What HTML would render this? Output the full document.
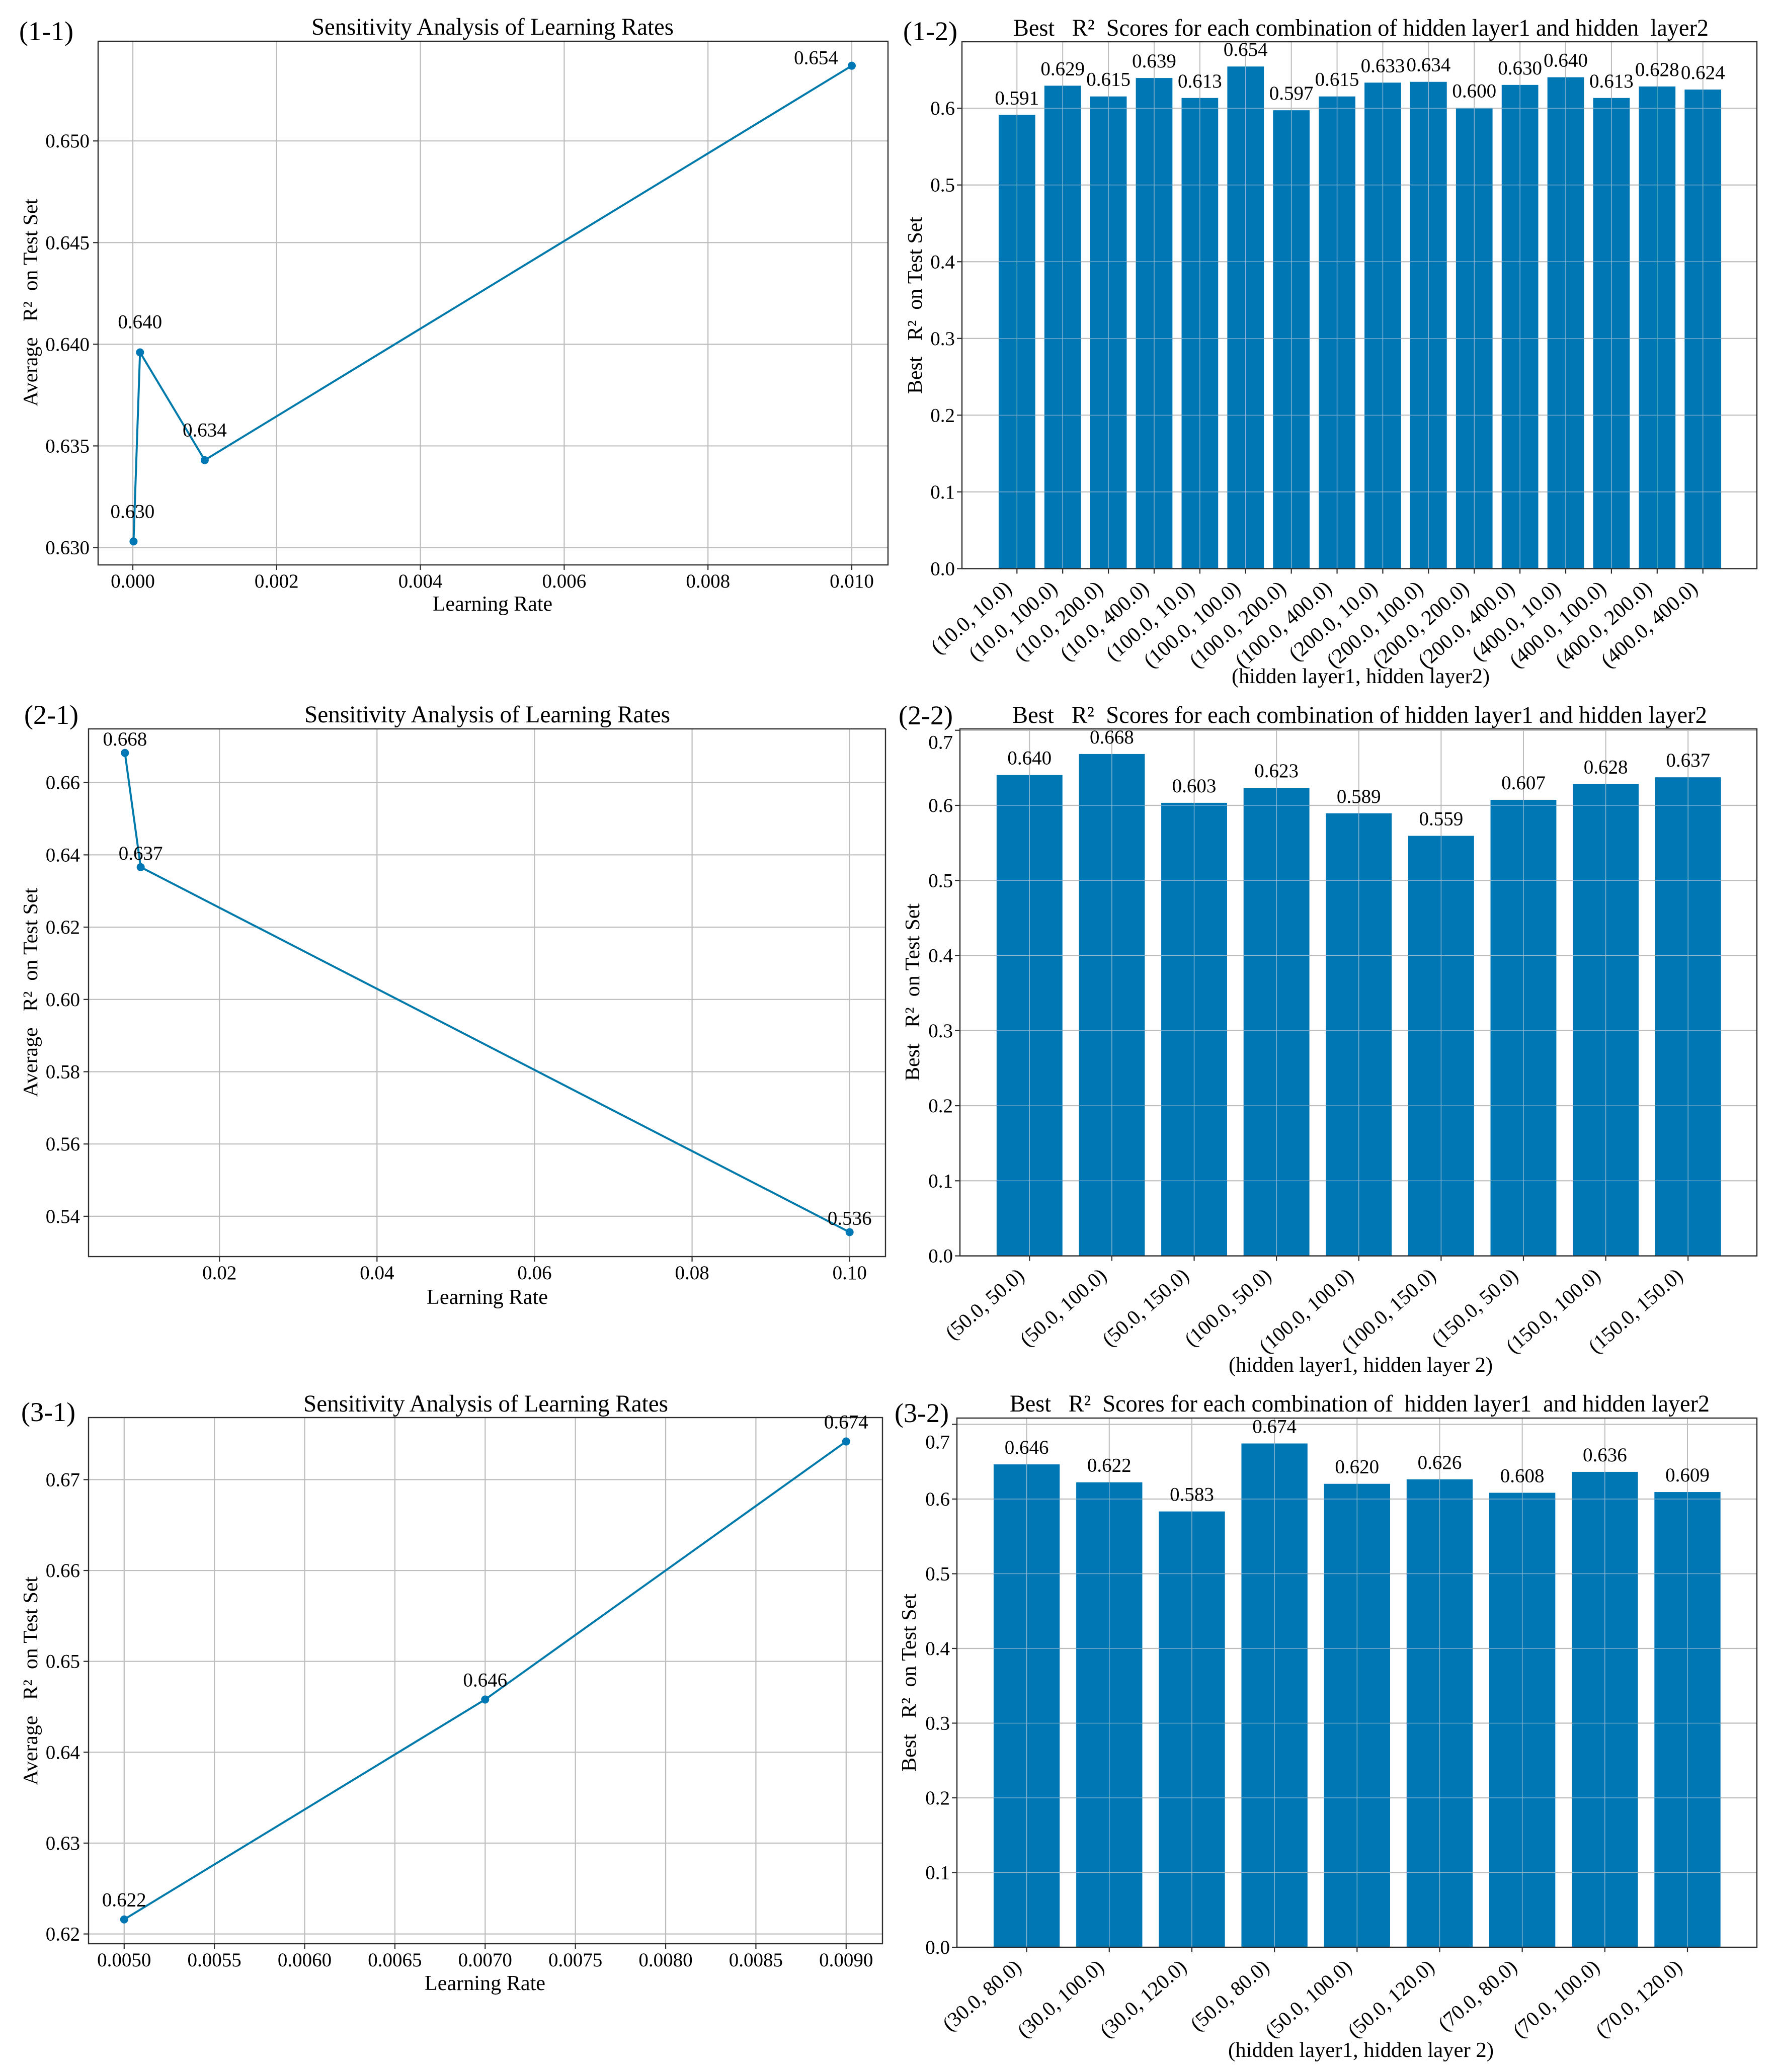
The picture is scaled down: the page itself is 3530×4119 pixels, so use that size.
<!DOCTYPE html>
<html lang="en">
<head>
<meta charset="utf-8">
<title>Learning rate sensitivity and hidden layer scores</title>
<style>
html,body{margin:0;padding:0;background:#fff;width:3530px;height:4119px;overflow:hidden}
svg{display:block}
text{font-family:"Liberation Serif","DejaVu Serif",serif;fill:#000;white-space:pre}
</style>
</head>
<body>
<svg id="fig" xmlns="http://www.w3.org/2000/svg" width="3530" height="4119" viewBox="0 0 3530 4119">
  <g id="p11">
    <text x="38" y="80" font-size="54">(1-1)</text>
    <text x="619" y="69" font-size="48" textLength="720" lengthAdjust="spacingAndGlyphs">Sensitivity Analysis of Learning Rates</text>
    <text x="860" y="1214" font-size="42" textLength="238" lengthAdjust="spacingAndGlyphs">Learning Rate</text>
    <text transform="translate(74,808) rotate(-90)" font-size="41" textLength="413" lengthAdjust="spacingAndGlyphs">Average   R²  on Test Set</text>
  </g>
  <g id="p12">
    <text x="1795" y="80" font-size="54">(1-2)</text>
    <text x="2014" y="71" font-size="48" textLength="1382" lengthAdjust="spacingAndGlyphs">Best   R²  Scores for each combination of hidden layer1 and hidden  layer2</text>
    <text x="2448" y="1358" font-size="42" textLength="513" lengthAdjust="spacingAndGlyphs">(hidden layer1, hidden layer2)</text>
    <text transform="translate(1832,783) rotate(-90)" font-size="41" textLength="352" lengthAdjust="spacingAndGlyphs">Best   R²  on Test Set</text>
  </g>
  <g id="p21">
    <text x="48" y="1439" font-size="54">(2-1)</text>
    <text x="605" y="1436" font-size="48" textLength="727" lengthAdjust="spacingAndGlyphs">Sensitivity Analysis of Learning Rates</text>
    <text x="848" y="2592" font-size="42" textLength="241" lengthAdjust="spacingAndGlyphs">Learning Rate</text>
    <text transform="translate(74,2181) rotate(-90)" font-size="41" textLength="416" lengthAdjust="spacingAndGlyphs">Average   R²  on Test Set</text>
  </g>
  <g id="p22">
    <text x="1786" y="1440" font-size="54">(2-2)</text>
    <text x="2012" y="1437" font-size="48" textLength="1381" lengthAdjust="spacingAndGlyphs">Best   R²  Scores for each combination of hidden layer1 and hidden layer2</text>
    <text x="2442" y="2727" font-size="42" textLength="525" lengthAdjust="spacingAndGlyphs">(hidden layer1, hidden layer 2)</text>
    <text transform="translate(1827,2149) rotate(-90)" font-size="41" textLength="353" lengthAdjust="spacingAndGlyphs">Best   R²  on Test Set</text>
  </g>
  <g id="p31">
    <text x="42" y="2825" font-size="54">(3-1)</text>
    <text x="603" y="2806" font-size="48" textLength="725" lengthAdjust="spacingAndGlyphs">Sensitivity Analysis of Learning Rates</text>
    <text x="844" y="3956" font-size="42" textLength="240" lengthAdjust="spacingAndGlyphs">Learning Rate</text>
    <text transform="translate(74,3549) rotate(-90)" font-size="41" textLength="415" lengthAdjust="spacingAndGlyphs">Average   R²  on Test Set</text>
  </g>
  <g id="p32">
    <text x="1778" y="2827" font-size="54">(3-2)</text>
    <text x="2007" y="2806" font-size="48" textLength="1391" lengthAdjust="spacingAndGlyphs">Best   R²  Scores for each combination of  hidden layer1  and hidden layer2</text>
    <text x="2441" y="4089" font-size="42" textLength="528" lengthAdjust="spacingAndGlyphs">(hidden layer1, hidden layer 2)</text>
    <text transform="translate(1820,3522) rotate(-90)" font-size="41" textLength="354" lengthAdjust="spacingAndGlyphs">Best   R²  on Test Set</text>
  </g>
</svg>
<script>
// ---------- Chart data ----------
const learningRates11 = [0.00001, 0.0001, 0.001, 0.01];
const avgScores11 = [0.6303, 0.6396, 0.6343, 0.6537];
const xTicks11 = [0, 0.002, 0.004, 0.006, 0.008, 0.01];
const yTicks11 = [0.63, 0.635, 0.64, 0.645, 0.65];

const learningRates21 = [0.008, 0.01, 0.1];
const avgScores21 = [0.6682, 0.6366, 0.5356];
const xTicks21 = [0.02, 0.04, 0.06, 0.08, 0.1];
const yTicks21 = [0.54, 0.56, 0.58, 0.6, 0.62, 0.64, 0.66];

const learningRates31 = [0.005, 0.007, 0.009];
const avgScores31 = [0.6216, 0.6458, 0.6742];
const xTicks31 = [0.005, 0.0055, 0.006, 0.0065, 0.007, 0.0075, 0.008, 0.0085, 0.009];
const yTicks31 = [0.62, 0.63, 0.64, 0.65, 0.66, 0.67];

const categories12 = ["(10.0, 10.0)", "(10.0, 100.0)", "(10.0, 200.0)", "(10.0, 400.0)", "(100.0, 10.0)", "(100.0, 100.0)", "(100.0, 200.0)", "(100.0, 400.0)", "(200.0, 10.0)", "(200.0, 100.0)", "(200.0, 200.0)", "(200.0, 400.0)", "(400.0, 10.0)", "(400.0, 100.0)", "(400.0, 200.0)", "(400.0, 400.0)"];
const bestScores12 = [0.5914, 0.6294, 0.6154, 0.6394, 0.6134, 0.6544, 0.5974, 0.6154, 0.6334, 0.6344, 0.6004, 0.6304, 0.6404, 0.6134, 0.6284, 0.6244];
const yTicks12 = [0, 0.1, 0.2, 0.3, 0.4, 0.5, 0.6];

const categories22 = ["(50.0, 50.0)", "(50.0, 100.0)", "(50.0, 150.0)", "(100.0, 50.0)", "(100.0, 100.0)", "(100.0, 150.0)", "(150.0, 50.0)", "(150.0, 100.0)", "(150.0, 150.0)"];
const bestScores22 = [0.6404, 0.6684, 0.6034, 0.6234, 0.5894, 0.5594, 0.6074, 0.6284, 0.6374];
const yTicks22 = [0, 0.1, 0.2, 0.3, 0.4, 0.5, 0.6, 0.7];

const categories32 = ["(30.0, 80.0)", "(30.0, 100.0)", "(30.0, 120.0)", "(50.0, 80.0)", "(50.0, 100.0)", "(50.0, 120.0)", "(70.0, 80.0)", "(70.0, 100.0)", "(70.0, 120.0)"];
const bestScores32 = [0.6464, 0.6224, 0.5834, 0.6744, 0.6204, 0.6264, 0.6084, 0.6364, 0.6094];
const yTicks32 = [0, 0.1, 0.2, 0.3, 0.4, 0.5, 0.6, 0.7];

// ---------- Drawing ----------
const NS = 'http://www.w3.org/2000/svg';
const BLUE = '#0077b5', LINE = '#007aab', GRID = '#bdbdbd', SPINE = '#2e2e2e', GRID_ON_BAR = '#8fb6cf';

function make(parent, tag, attrs, content) {
  const el = document.createElementNS(NS, tag);
  for (const k in attrs) el.setAttribute(k, attrs[k]);
  if (content !== undefined) el.textContent = content;
  parent.appendChild(el);
  return el;
}
function linearScale(v0, p0, v1, p1) {
  return v => p0 + (v - v0) * (p1 - p0) / (v1 - v0);
}
function drawFrame(g, box) {
  const frame = make(g, 'rect', {x: box.left, y: box.top, width: box.right - box.left, height: box.bottom - box.top, fill: 'none', stroke: SPINE, 'stroke-width': 2.4});
  
  
}
function drawYAxis(g, box, y, ticks, dec, gap, shiftTop) {
  ticks.forEach((t, i) => {
    const py = y(t);
    const grid = make(g, 'line', {x1: box.left, x2: box.right, y1: py, y2: py, stroke: GRID, 'stroke-width': 2.2});
    
    
    const tick = make(g, 'line', {x1: box.left - 10, x2: box.left, y1: py, y2: py, stroke: SPINE, 'stroke-width': 2.2});
    
    
    const shift = (i === ticks.length - 1 && shiftTop) ? shiftTop : 0;
    const lab = make(g, 'text', {x: box.left - gap, y: py + 13 + shift, 'font-size': 39, 'text-anchor': 'end'}, t.toFixed(dec));
    
    
  });
}
function drawLinePanel(id, box, xs, ys, xTicks, yTicks, xDec, yDec, labelShift) {
  const g = document.getElementById(id);
  const x = linearScale(box.xa[0], box.xa[1], box.xa[2], box.xa[3]);
  const y = linearScale(box.ya[0], box.ya[1], box.ya[2], box.ya[3]);
  xTicks.forEach(t => {
    const px = x(t);
    const grid = make(g, 'line', {x1: px, x2: px, y1: box.top, y2: box.bottom, stroke: GRID, 'stroke-width': 2.2});
    
    
    const tick = make(g, 'line', {x1: px, x2: px, y1: box.bottom, y2: box.bottom + 10, stroke: SPINE, 'stroke-width': 2.2});
    
    
    const lab = make(g, 'text', {x: px, y: box.bottom + 45, 'font-size': 39, 'text-anchor': 'middle'}, t.toFixed(xDec));
    
    
  });
  drawYAxis(g, box, y, yTicks, yDec, 17, 0);
  drawFrame(g, box);
  const pts = xs.map((v, i) => x(v).toFixed(1) + ',' + y(ys[i]).toFixed(1)).join(' ');
  const line = make(g, 'polyline', {points: pts, fill: 'none', stroke: LINE, 'stroke-width': 4});
  
  
  xs.forEach((v, i) => {
    const dot = make(g, 'circle', {cx: x(v), cy: y(ys[i]), r: 8, fill: BLUE});
    
    
    const s = labelShift[i];
    const lab = make(g, 'text', {x: x(v) + s[0], y: y(ys[i]) + s[1] + 13, 'font-size': 39, 'text-anchor': 'middle'}, ys[i].toFixed(3));
    
    
  });
}
function drawBarPanel(id, box, cats, vals, yTicks, shiftTop) {
  const g = document.getElementById(id);
  const x = linearScale(0, box.xa[0], cats.length - 1, box.xa[1]);
  const step = (box.xa[1] - box.xa[0]) / (cats.length - 1);
  const barW = step * 0.8;
  const y = linearScale(0, box.bottom, 0.6, box.y06);
  // horizontal grid behind the bars, with its faint continuation drawn over them
  drawYAxis(g, box, y, yTicks, 1, 14, shiftTop);
  cats.forEach((c, i) => {
    const px = x(i);
    const grid = make(g, 'line', {x1: px, x2: px, y1: box.top, y2: box.bottom, stroke: GRID, 'stroke-width': 2});
    
    
  });
  cats.forEach((c, i) => {
    const bar = make(g, 'rect', {x: x(i) - barW / 2, y: y(vals[i]), width: barW, height: box.bottom - y(vals[i]), fill: BLUE});
    
    
    const vGrid = make(g, 'line', {x1: x(i), x2: x(i), y1: y(vals[i]), y2: box.bottom, stroke: GRID_ON_BAR, 'stroke-width': 1.4});
    
    
    yTicks.forEach(t => {
      if (t <= 0 || t >= vals[i]) return;
      const hGrid = make(g, 'line', {x1: x(i) - barW / 2, x2: x(i) + barW / 2, y1: y(t), y2: y(t), stroke: GRID_ON_BAR, 'stroke-width': 1.2});
      
      
    });
  });
  cats.forEach((c, i) => {
    const px = x(i);
    const tick = make(g, 'line', {x1: px, x2: px, y1: box.bottom, y2: box.bottom + 10, stroke: SPINE, 'stroke-width': 2.2});
    
    
    const lab = make(g, 'text', {transform: 'translate(' + (px - 8) + ',' + (box.bottom + 43) + ') rotate(-41)', 'font-size': box.catFont, 'text-anchor': 'end'}, c);
    
    
    const val = make(g, 'text', {x: px, y: y(vals[i]) - 21, 'font-size': 39, 'text-anchor': 'middle'}, vals[i].toFixed(3));
    
    
  });
  drawFrame(g, box);
}

drawLinePanel('p11', {left: 195, right: 1765, top: 82, bottom: 1123, xa: [0, 264, 0.01, 1693], ya: [0.63, 1088.5, 0.65, 280.2]},
  learningRates11, avgScores11, xTicks11, yTicks11, 3, 3, [[-2, -60], [0, -61], [0, -60], [-71, -16]]);
drawLinePanel('p21', {left: 176, right: 1760, top: 1449, bottom: 2498, xa: [0.02, 436.2, 0.1, 1688.7], ya: [0.66, 1555.7, 0.54, 2417.9]},
  learningRates21, avgScores21, xTicks21, yTicks21, 2, 2, [[0, -28], [0, -28], [0, -28]]);
drawLinePanel('p31', {left: 176, right: 1754, top: 2818, bottom: 3864, xa: [0.005, 246.8, 0.009, 1681.8], ya: [0.67, 2941.4, 0.62, 3844.6]},
  learningRates31, avgScores31, xTicks31, yTicks31, 4, 2, [[0, -39], [0, -39], [0, -39]]);
drawBarPanel('p12', {left: 1912, right: 3492, top: 83, bottom: 1130.4, y06: 215.2, xa: [2021.3, 3384.7], catFont: 42},
  categories12, bestScores12, yTicks12, 0);
drawBarPanel('p22', {left: 1908, right: 3492, top: 1449, bottom: 2496.6, y06: 1601, xa: [2046.3, 3355.2], catFont: 41},
  categories22, bestScores22, yTicks22, 24);
drawBarPanel('p32', {left: 1902, right: 3492, top: 2819, bottom: 3871, y06: 2980, xa: [2040.6, 3354], catFont: 41},
  categories32, bestScores32, yTicks32, 35);
</script>
</body>
</html>
